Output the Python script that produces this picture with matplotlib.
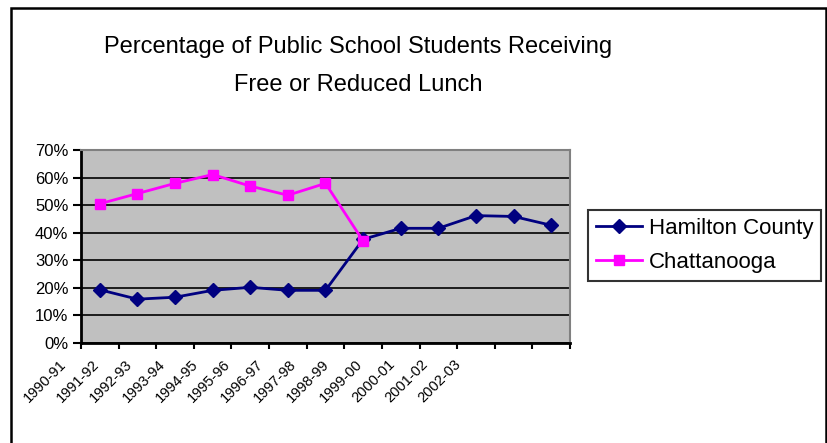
import numpy as np
import matplotlib
matplotlib.use("Agg")
import matplotlib.pyplot as plt
from matplotlib.patches import Rectangle
from matplotlib.ticker import PercentFormatter, FixedLocator

years = ["1990-91", "1991-92", "1992-93", "1993-94", "1994-95", "1995-96", "1996-97",
         "1997-98", "1998-99", "1999-00", "2000-01", "2001-02", "2002-03"]
hamilton = [19.3, 15.9, 16.6, 19.1, 20.2, 19.1, 19.1, 37.6, 41.6, 41.6, 46.2, 45.9, 42.7]
chattanooga = [50.5, 54.2, 57.9, 61.1, 56.9, 53.6, 57.9, 37.0]

FONT = "Liberation Sans"

fig = plt.figure(figsize=(8.28, 4.43), dpi=100)
fig.patch.set_facecolor("white")
ax = fig.add_axes([81/828, 1-343/443, (570-81)/828, (343-150)/443])
ax.set_facecolor("#C0C0C0")

x = np.arange(len(years))
ax.plot(x, hamilton, color="#000080", lw=2, marker="D", ms=7.5, mfc="#000080", mec="#000080",
        label="Hamilton County", zorder=3)
ax.plot(x[:len(chattanooga)], chattanooga, color="#FF00FF", lw=2, marker="s", ms=7,
        mfc="#FF00FF", mec="#FF00FF", label="Chattanooga", zorder=3)

ax.set_xlim(-0.5, len(years) - 0.5)
ax.set_ylim(0, 70)
ax.set_yticks(np.arange(0, 71, 10))
ax.yaxis.set_major_formatter(PercentFormatter(decimals=0))
ax.yaxis.grid(True, color="black", lw=1.2)
ax.set_axisbelow(True)
ax.xaxis.set_major_locator(FixedLocator(np.arange(-0.5, len(years))))
ax.set_xticklabels([])
ax.tick_params(axis="x", length=4, width=1.5, direction="out")
ax.tick_params(axis="y", length=6, width=1.5, direction="out", labelsize=12, pad=3)
for lbl in ax.get_yticklabels():
    lbl.set_fontfamily(FONT)
for s in ["left", "bottom"]:
    ax.spines[s].set_color("black")
    ax.spines[s].set_linewidth(2)
for s in ["top", "right"]:
    ax.spines[s].set_color("#808080")
    ax.spines[s].set_linewidth(1.5)

# rotated category labels (Excel-style placement)
trans = matplotlib.transforms.blended_transform_factory(ax.transData, ax.transAxes)
for i, lab in enumerate(years):
    ax.text(0.875 * (i - 1) - 0.08, -0.10, lab, transform=trans, rotation=45,
            rotation_mode="anchor", ha="right", va="center", fontsize=10.5,
            fontfamily=FONT, clip_on=False)

fig.text(358/828, 1-47/443, "Percentage of Public School Students Receiving",
         ha="center", va="center", fontsize=17, fontfamily=FONT)
fig.text(358/828, 1-85/443, "Free or Reduced Lunch",
         ha="center", va="center", fontsize=17, fontfamily=FONT)

leg = fig.legend(loc="upper left", bbox_to_anchor=(588/828, 1-210/443),
                 prop={"family": FONT, "size": 16}, frameon=True, fancybox=False,
                 edgecolor="black", handlelength=2.1, borderpad=0.35, labelspacing=0.6,
                 handletextpad=0.3, borderaxespad=0)
leg.get_frame().set_linewidth(1.5)

fig.add_artist(Rectangle((11/828, -0.05), (826-11)/828, 1-8/443+0.05,
                         transform=fig.transFigure, fill=False, edgecolor="black",
                         lw=1.8, clip_on=False))

fig.savefig("out.png", dpi=100)
